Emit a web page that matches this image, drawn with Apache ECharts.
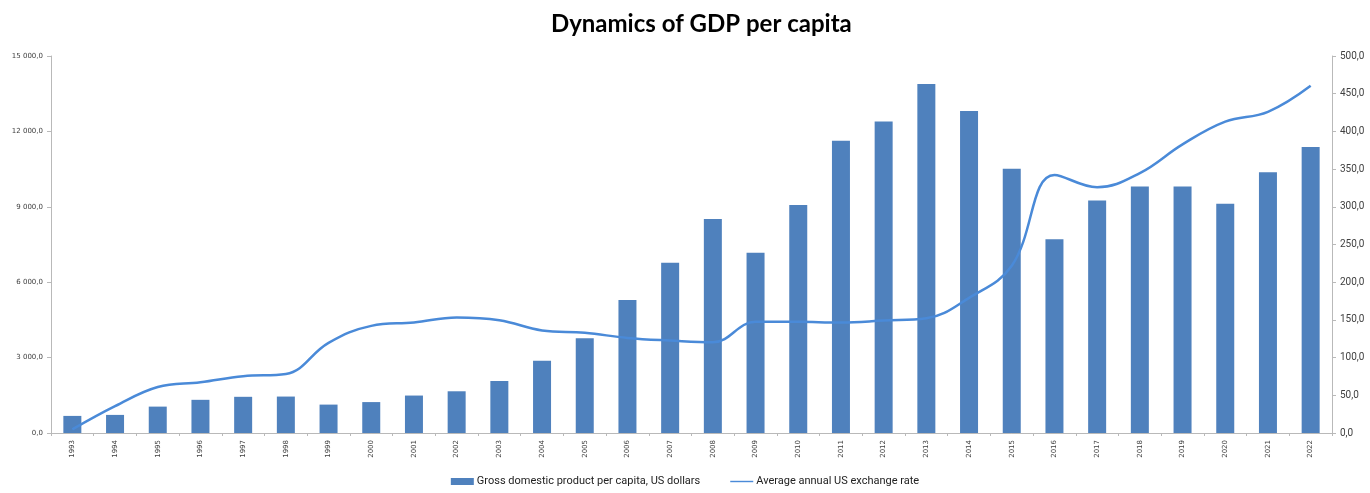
<!DOCTYPE html>
<html>
<head>
<meta charset="utf-8">
<script src="https://cdn.jsdelivr.net/npm/echarts@6/dist/echarts.min.js"></script>
<style>
  html, body { margin: 0; padding: 0; background: #fff; }
  #chart { width: 1370px; height: 493px; }
</style>
</head>
<body>
<div id="chart"></div>
<script>
// Years on the category axis
const years = ['1993','1994','1995','1996','1997','1998','1999','2000','2001','2002',
  '2003','2004','2005','2006','2007','2008','2009','2010','2011','2012',
  '2013','2014','2015','2016','2017','2018','2019','2020','2021','2022'];

// Gross domestic product per capita, US dollars (left axis)
const gdpPerCapita = [680, 720, 1050, 1320, 1440, 1450, 1130, 1230, 1490, 1660,
  2070, 2870, 3770, 5290, 6770, 8510, 7170, 9070, 11630, 12390,
  13890, 12810, 10510, 7710, 9250, 9810, 9810, 9120, 10370, 11380];

// Average annual US exchange rate (right axis)
const exchangeRate = [4.7, 35.5, 61.0, 67.3, 75.4, 78.3, 119.5, 142.1, 146.7, 153.3,
  149.6, 136.0, 132.9, 126.1, 122.6, 120.3, 147.5, 147.4, 146.6, 149.1,
  152.1, 179.2, 221.7, 342.2, 326.0, 344.7, 382.8, 413.0, 426.0, 460.5];

// Left axis ticks
const leftTicks = { min: 0, max: 15000, interval: 3000 };
// Right axis ticks
const rightTicks = { min: 0, max: 500, interval: 50 };

function fmtLeft(v) {
  const s = Math.round(v).toString().replace(/\B(?=(\d{3})+(?!\d))/g, ' ');
  return s + ',0';
}
function fmtRight(v) {
  return Math.round(v) + ',0';
}

const chart = echarts.init(document.getElementById('chart'), null, { renderer: 'canvas' });

const axisLineGrey = '#b9b9b9';
const labelColor = '#404040';

chart.setOption({
  animation: false,
  backgroundColor: '#ffffff',
  title: {
    text: 'Dynamics of GDP per capita',
    left: 546,
    top: 7,
    textStyle: { fontFamily: 'Lato', fontWeight: 'bold', fontSize: 24, color: '#000' }
  },
  legend: {
    bottom: 1,
    left: 'center',
    itemGap: 30,
    itemWidth: 23,
    itemHeight: 7,
    textStyle: { fontFamily: 'Roboto', fontSize: 11, color: '#222', padding: [0, 0, 0, -2] },
    data: [
      { name: 'Gross domestic product per capita, US dollars', icon: 'rect' },
      { name: 'Average annual US exchange rate', icon: 'path://M0,4 L24,4 L24,5.5 L0,5.5 Z' }
    ]
  },
  grid: { left: 51, right: 38, top: 56, bottom: 60, containLabel: false },
  xAxis: {
    type: 'category',
    data: years,
    boundaryGap: true,
    axisLine: { lineStyle: { color: axisLineGrey, width: 1 } },
    axisTick: { show: true, alignWithLabel: false, length: 3, lineStyle: { color: axisLineGrey } },
    axisLabel: {
      rotate: 90,
      interval: 0,
      fontSize: 7,
      fontFamily: 'DejaVu Sans',
      color: labelColor,
      margin: 7
    }
  },
  yAxis: [
    {
      type: 'value',
      min: leftTicks.min, max: leftTicks.max, interval: leftTicks.interval,
      position: 'left',
      splitLine: { show: false },
      axisLine: { show: true, lineStyle: { color: axisLineGrey } },
      axisTick: { show: true, length: 4, lineStyle: { color: axisLineGrey } },
      axisLabel: { formatter: fmtLeft, fontSize: 7, fontFamily: 'DejaVu Sans', color: labelColor, margin: 8 }
    },
    {
      type: 'value',
      min: rightTicks.min, max: rightTicks.max, interval: rightTicks.interval,
      position: 'right',
      splitLine: { show: false },
      axisLine: { show: true, lineStyle: { color: axisLineGrey } },
      axisTick: { show: true, length: 4, lineStyle: { color: axisLineGrey } },
      axisLabel: { formatter: fmtRight, fontSize: 10, fontFamily: 'Roboto', color: labelColor, margin: 8 }
    }
  ],
  series: [
    {
      name: 'Gross domestic product per capita, US dollars',
      type: 'bar',
      yAxisIndex: 0,
      data: gdpPerCapita,
      barWidth: 18,
      itemStyle: { color: '#4f81bd' }
    },
    {
      name: 'Average annual US exchange rate',
      type: 'line',
      yAxisIndex: 1,
      data: exchangeRate,
      smooth: 0.4,
      symbol: 'none',
      lineStyle: { color: '#4a8ad8', width: 2.5 },
      itemStyle: { color: '#4a8ad8' }
    }
  ]
});
</script>
</body>
</html>
